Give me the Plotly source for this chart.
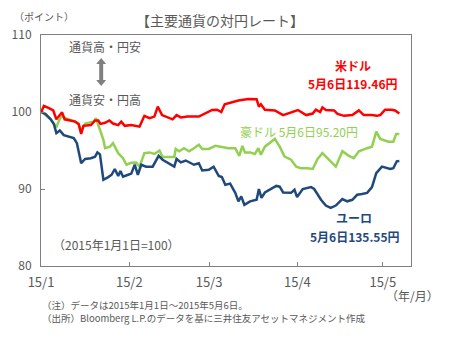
import pandas as pd
import plotly.graph_objects as go

# Day offsets from 2015-01-01 and index values (2015-01-01 = 100)
usd_day = [0.1, 1.0, 2.8, 4.3, 5.4, 6.6, 7.4, 8.3, 10.3, 12.0, 13.2, 14.1, 14.9, 17.5, 19.0, 20.1, 20.9, 22.5, 24.0, 25.3,
           27.1, 28.2, 29.4, 31.7, 34.6, 36.3, 38.1, 39.8, 41.0, 42.5, 46.2, 47.6, 49.1, 51.4, 55.4, 57.8, 60.1, 61.8, 63.3, 64.5,
           67.0, 69.3, 72.8, 75.7, 76.5, 77.2, 78.6, 82.1, 85.0, 87.8, 90.2, 93.1, 95.4, 96.5, 98.0, 98.8, 100.0, 102.9, 104.1, 106.4,
           109.3, 111.6, 113.3, 116.2, 117.9, 119.1, 120.8, 123.1, 124.3, 125.8]
usd_val = [100.0, 100.8, 100.5, 100.2, 99.05, 99.6, 99.96, 99.05, 98.9, 98.75, 98.45, 97.15, 98.2, 98.3, 98.9, 98.9, 98.45, 98.6, 98.9, 98.5,
           98.3, 98.75, 98.2, 98.3, 98.1, 99.5, 99.2, 99.4, 100.7, 99.6, 99.05, 99.6, 99.3, 99.4, 99.4, 99.8, 100.26, 100.3, 100.0, 101.0,
           101.3, 101.5, 101.7, 101.65, 100.7, 101.0, 100.3, 100.2, 99.6, 100.0, 100.26, 99.6, 99.8, 100.3, 100.0, 100.6, 100.26, 100.2, 99.75, 99.5,
           99.6, 100.2, 99.6, 99.6, 99.5, 99.6, 100.3, 100.3, 100.2, 99.8]

aud_day = [0.1, 1.6, 3.4, 4.5, 5.4, 6.3, 7.4, 8.6, 10.3, 12.0, 13.2, 14.1, 15.5, 17.2, 18.4, 19.3, 20.7, 21.9, 22.5, 24.2,
           25.3, 27.1, 28.8, 30.0, 31.7, 33.4, 34.6, 36.3, 38.1, 39.8, 41.6, 42.7, 45.0, 46.8, 47.3, 48.5, 50.2, 52.0, 53.7, 55.4,
           56.6, 58.9, 61.2, 63.5, 65.9, 68.2, 69.6, 70.7, 71.6, 73.4, 75.1, 76.3, 77.2, 78.6, 80.3, 82.1, 83.8, 85.5, 87.8, 89.6,
           91.3, 93.6, 95.4, 97.1, 98.8, 101.7, 103.5, 105.8, 108.1, 109.8, 111.6, 114.5, 116.2, 117.7, 119.1, 122.0, 123.7, 124.7, 125.8]
aud_val = [100.0, 99.6, 99.05, 98.5, 98.0, 98.9, 99.5, 99.2, 98.95, 98.75, 98.45, 97.6, 98.5, 98.6, 98.75, 99.2, 97.7, 96.4, 95.3, 95.5,
           95.95, 94.65, 94.0, 93.15, 93.4, 93.45, 92.9, 94.65, 94.75, 94.55, 95.0, 94.15, 94.15, 94.15, 95.2, 94.9, 95.3, 94.9, 95.3, 95.75,
           95.2, 95.2, 95.6, 95.5, 95.3, 95.3, 94.3, 95.6, 94.75, 94.75, 94.55, 95.3, 94.45, 95.5, 95.95, 96.5, 95.5, 94.2, 93.8, 92.9,
           92.7, 92.7, 92.6, 93.9, 94.65, 93.65, 92.9, 94.9, 94.3, 94.0, 94.9, 95.3, 95.5, 97.45, 96.5, 96.15, 96.15, 97.15, 97.15]

eur_day = [0.1, 1.6, 3.4, 4.5, 5.4, 6.6, 8.0, 9.7, 11.5, 12.6, 14.1, 15.5, 17.5, 19.0, 19.8, 20.7, 21.9, 23.6, 24.8, 25.9,
           27.1, 27.9, 28.8, 30.6, 31.7, 32.9, 34.0, 35.2, 36.9, 39.2, 41.3, 42.7, 45.0, 46.8, 47.6, 49.1, 50.8, 53.7, 55.4, 56.6,
           58.9, 60.6, 62.4, 63.5, 64.7, 66.4, 68.2, 69.3, 70.3, 71.4, 73.4, 75.7, 76.5, 77.4, 78.6, 80.9, 82.6, 83.8, 85.0, 87.8,
           89.0, 89.9, 91.9, 94.8, 95.9, 98.3, 100.0, 101.7, 103.5, 105.8, 107.5, 109.3, 111.0, 112.7, 114.5, 116.2, 117.7, 119.7, 121.4, 122.6,
           123.7, 124.9, 125.8]
eur_val = [100.0, 99.75, 99.05, 98.45, 97.25, 97.6, 97.0, 96.8, 96.6, 95.95, 93.35, 93.9, 94.0, 94.2, 94.75, 94.5, 91.2, 91.55, 91.85, 92.6,
           91.7, 92.35, 91.6, 91.85, 92.0, 93.15, 91.85, 93.15, 92.9, 92.9, 94.3, 93.8, 93.35, 92.9, 93.9, 93.45, 93.7, 93.15, 93.35, 92.4,
           92.5, 92.9, 91.7, 91.55, 90.55, 90.7, 89.5, 88.4, 89.05, 87.95, 88.4, 88.6, 90.0, 88.85, 89.55, 90.1, 90.4, 90.3, 89.55, 89.5,
           89.9, 88.95, 90.0, 90.25, 90.0, 88.6, 87.85, 87.55, 87.85, 88.7, 88.4, 88.6, 89.25, 89.35, 89.5, 90.25, 92.05, 92.9, 92.7, 92.6,
           92.7, 93.6, 93.65]

tick_dates = ["2015-01-01", "2015-02-01", "2015-03-01", "2015-04-01", "2015-05-01"]
tick_labels = ["15/1", "15/2", "15/3", "15/4", "15/5"]
y_ticks = [80, 90, 100, 110]

base = pd.Timestamp("2015-01-01")
def to_dates(days):
    return [base + pd.Timedelta(days=d) for d in days]

FONT = "Noto Sans CJK JP"
GRAY = "#595959"
RED = "#FF0000"
GREEN = "#92D050"
NAVY = "#1F497D"
ARROW = "#7F7F7F"

fig = go.Figure()
fig.add_trace(go.Scatter(x=to_dates(aud_day), y=aud_val, mode="lines", line=dict(color=GREEN, width=2.5), name="豪ドル"))
fig.add_trace(go.Scatter(x=to_dates(eur_day), y=eur_val, mode="lines", line=dict(color=NAVY, width=2.5), name="ユーロ"))
fig.add_trace(go.Scatter(x=to_dates(usd_day), y=usd_val, mode="lines", line=dict(color=RED, width=2.5), name="米ドル"))

fig.update_layout(
    width=452, height=338,
    margin=dict(l=36, r=41, t=35, b=72),
    paper_bgcolor="white", plot_bgcolor="white",
    showlegend=False,
    font=dict(family=FONT, color=GRAY, size=12),
    xaxis=dict(
        type="date",
        range=[base, base + pd.Timedelta(days=129.9)],
        tickvals=tick_dates, ticktext=tick_labels,
        ticks="inside", ticklen=4, tickcolor="#808080",
        showgrid=False, zeroline=False,
        showline=True, linecolor="#808080", linewidth=1, mirror=True,
        tickfont=dict(size=13, color=GRAY), ticklabelstandoff=4,
    ),
    yaxis=dict(
        range=[80, 110], tickvals=y_ticks,
        ticks="inside", ticklen=4, tickcolor="#808080",
        showgrid=False, zeroline=False,
        showline=True, linecolor="#808080", linewidth=1, mirror=True,
        tickfont=dict(size=12, color=GRAY), ticklabelstandoff=6,
    ),
)

def ann(text, x, y, color=GRAY, size=12, bold=False, xanchor="center", yanchor="middle"):
    t = f"<b>{text}</b>" if bold else text
    fig.add_annotation(text=t, x=x, y=y, xref="paper", yref="paper", showarrow=False, align="left",
                       xanchor=xanchor, yanchor=yanchor, font=dict(family=FONT, size=size, color=color))

ann("【主要通貨の対円レート】", 0.483, 1.065, size=14)
ann("（ポイント）", 0.008, 1.082, size=10)
ann("通貨高・円安", 0.173, 0.952)
ann("通貨安・円高", 0.173, 0.719)

# double-headed arrow (paper coordinates)
fig.add_shape(type="rect", xref="paper", yref="paper", x0=0.1573, x1=0.1680, y0=0.8052, y1=0.8745,
              fillcolor=ARROW, line=dict(width=0))
fig.add_shape(type="path", xref="paper", yref="paper",
              path="M 0.1627 0.9004 L 0.1493 0.8745 L 0.1760 0.8745 Z", fillcolor=ARROW, line=dict(width=0))
fig.add_shape(type="path", xref="paper", yref="paper",
              path="M 0.1627 0.7792 L 0.1493 0.8052 L 0.1760 0.8052 Z", fillcolor=ARROW, line=dict(width=0))

ann("米ドル", 0.843, 0.866, color=RED, bold=True)
ann("5月6日119.46円", 0.843, 0.792, color=RED, bold=True)
ann("豪ドル 5月6日95.20円", 0.696, 0.582, color=GREEN)
ann("ユーロ", 0.845, 0.208, color=NAVY, bold=True)
ann("5月6日135.55円", 0.848, 0.126, color=NAVY, bold=True)
ann("（2015年1月1日=100）", 0.203, 0.091)
ann("（年/月）", 1.005, -0.126)
ann("（注）データは2015年1月1日～2015年5月6日。", -0.003, -0.167, size=9.5, xanchor="left")
ann("（出所）Bloomberg L.P.のデータを基に三井住友アセットマネジメント作成", -0.003, -0.227, size=9.5, xanchor="left")

fig.write_html("out.html")
